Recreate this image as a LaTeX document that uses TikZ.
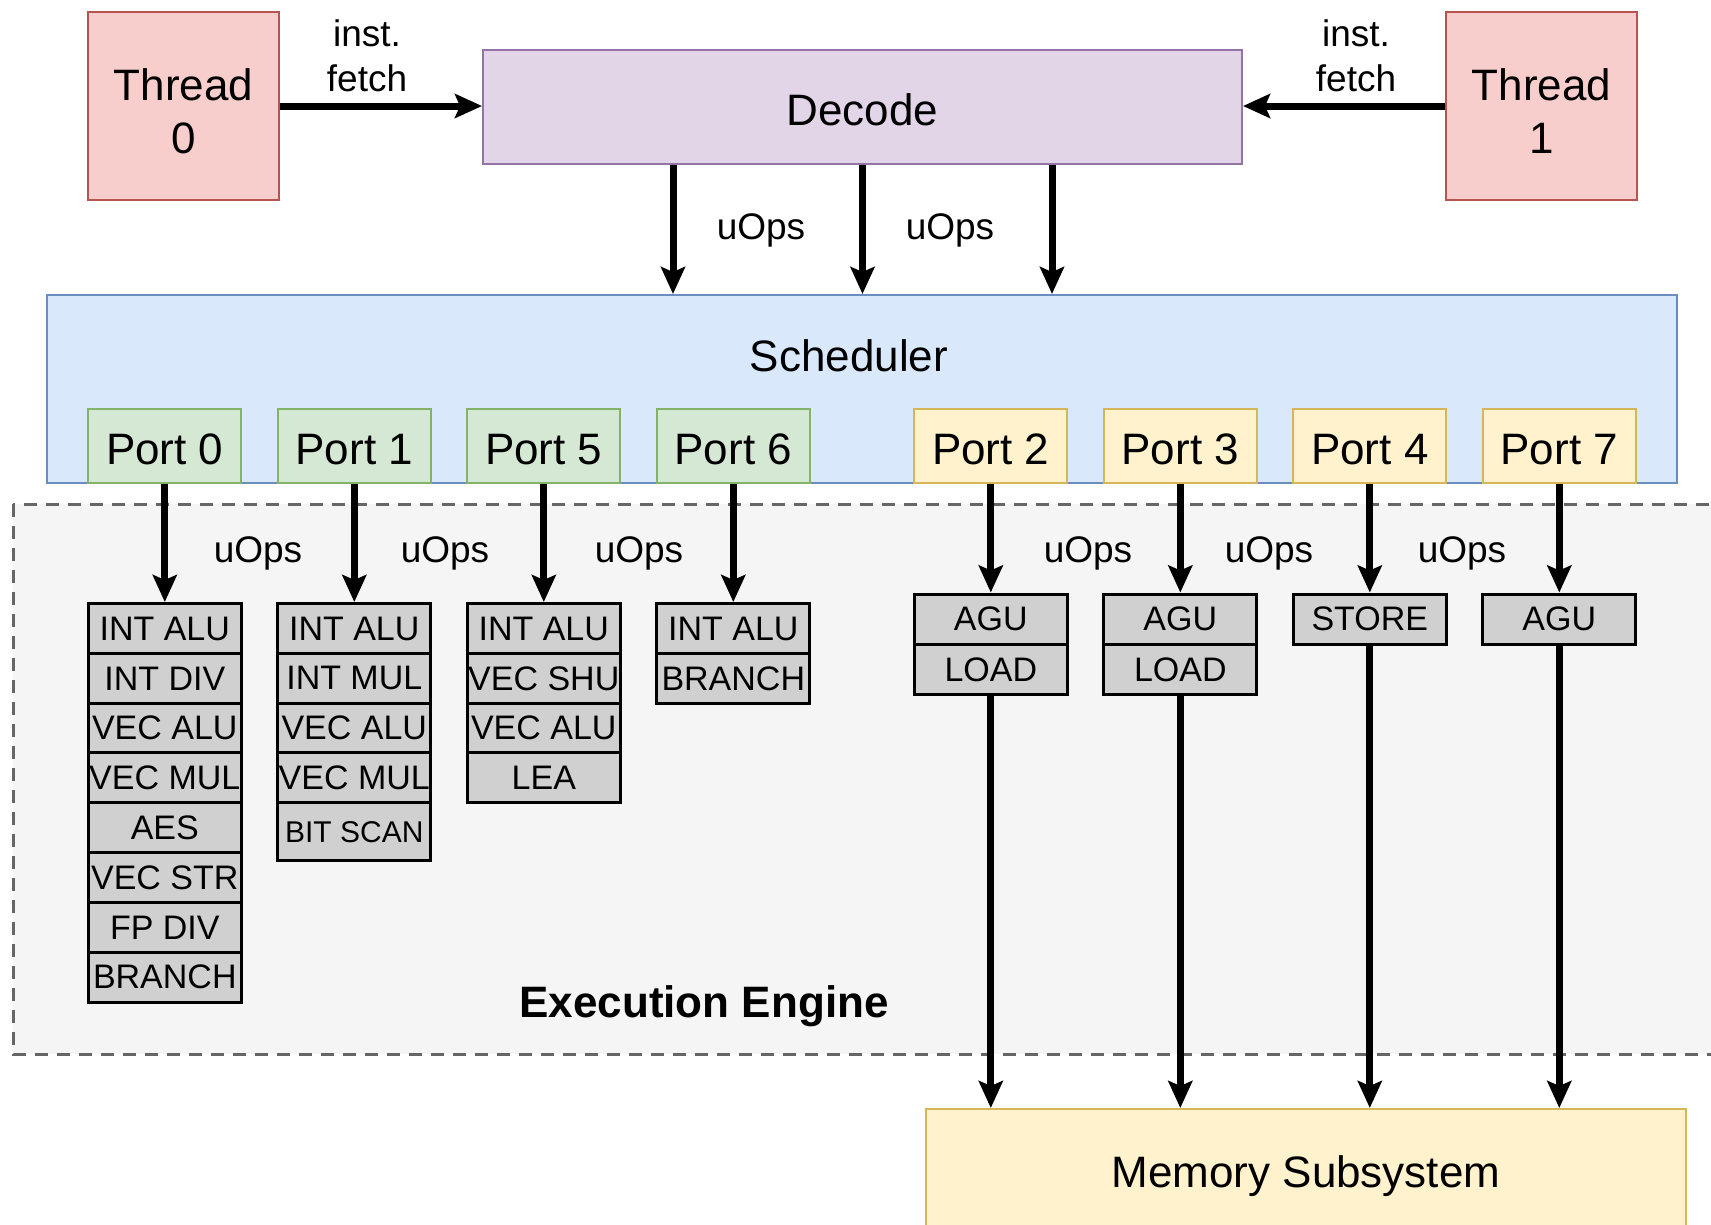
\documentclass[tikz,border=0pt]{standalone}
\usepackage{fontspec}
\setmainfont{Liberation Sans}
\usetikzlibrary{arrows.meta}

\definecolor{thrfill}{HTML}{F8CECC}
\definecolor{thrline}{HTML}{B85450}
\definecolor{decfill}{HTML}{E1D5E7}
\definecolor{decline}{HTML}{9673A6}
\definecolor{schfill}{HTML}{DAE8FC}
\definecolor{schline}{HTML}{6C8EBF}
\definecolor{grnfill}{HTML}{D5E8D4}
\definecolor{grnline}{HTML}{82B366}
\definecolor{ylwfill}{HTML}{FFF2CC}
\definecolor{ylwline}{HTML}{D6B656}
\definecolor{unitfill}{HTML}{D0D0D0}
\definecolor{engfill}{HTML}{F5F5F5}
\definecolor{engline}{HTML}{666666}

\begin{document}
\begin{tikzpicture}[x=1pt, y=-1pt,
    box/.style={draw, line width=2pt, inner sep=0pt, align=center, text height=37pt, text depth=0pt, font=\fontsize{44}{53}\selectfont},
    thread/.style={box, fill=thrfill, draw=thrline, minimum width=191pt, minimum height=188pt, text height=94pt},
    port/.style={box, minimum width=153pt, minimum height=74pt},
    unit/.style={draw=black, line width=3pt, fill=unitfill, inner sep=0pt, minimum width=153pt, minimum height=50pt, font=\fontsize{34}{40}\selectfont},
    lbl/.style={align=center, inner sep=0pt, font=\fontsize{37}{45}\selectfont},
    uop/.style={lbl, text height=26pt, text depth=0pt},
    flow/.style={-{Stealth[length=27pt, width=24pt, inset=5pt]}, line width=7pt}]
    \clip (0,0) rectangle (1711,1224);
    \fill[white] (0,0) rectangle (1711,1224);

    % front end
    \node[thread] (t0) at (183.5,106) {Thread\\0};
    \node[thread] (t1) at (1541.5,106) {Thread\\1};
    \node[box, fill=decfill, draw=decline, minimum width=759pt, minimum height=114pt] (dec) at (862.5,107) {Decode};
    \draw[flow] (t0.east) -- (t0.east -| dec.west);
    \draw[flow] (t1.west) -- (t1.west -| dec.east);
    \node[lbl] (f0) at (367,56) {inst.\\fetch};
    \node[lbl] (f1) at (1356,56) {inst.\\fetch};

    % scheduler and its ports
    \node[box, fill=schfill, draw=schline, minimum width=1630pt, minimum height=188pt] (sched) at (862,389) {};
    \node[box, draw=none] (schedtxt) at (849,353) {Scheduler};
    \foreach \X in {-189.5,0,189.5}
        \draw[flow] ([xshift=\X pt]dec.south) -- ([xshift=\X pt]dec.south |- sched.north);
    \node[uop] (ud0) at (761,226) {uOps};
    \node[uop] (ud1) at (950,226) {uOps};

    \foreach \N/\X in {0/164.8, 1/354.3, 5/543.8, 6/733.3}
        \node[port, fill=grnfill, draw=grnline] (p\N) at (\X,446) {Port \N};
    \foreach \N/\X in {2/990.8, 3/1180.3, 4/1369.8, 7/1559.3}
        \node[port, fill=ylwfill, draw=ylwline] (p\N) at (\X,446) {Port \N};

    % execution engine
    \draw[draw=engline, fill=engfill, line width=3pt, dash pattern=on 13pt off 9pt] (13,504) rectangle (1730,1054);
    \node[font=\bfseries\fontsize{44}{53}\selectfont, inner sep=0pt] (eng) at (704,1006.5) {Execution Engine};

    \foreach \N/\X/\List in {0/164.8/{INT ALU,INT DIV,VEC ALU,VEC MUL,AES,VEC STR,FP DIV,BRANCH},
                             1/354.3/{INT ALU,INT MUL,VEC ALU,VEC MUL},
                             5/543.8/{INT ALU,VEC SHU,VEC ALU,LEA},
                             6/733.3/{INT ALU,BRANCH}}{
        \foreach \Name [count=\R, evaluate=\R as \Y using 602+(\R-1)*49.8] in \List
            \node[unit, anchor=north] (u\N-\R) at (\X,\Y) {\Name};
        \draw[flow] (p\N.south) -- (u\N-1.north);
    }
    \node[unit, anchor=north, minimum height=58pt, font=\fontsize{30}{36}\selectfont] (u1-5) at ([yshift=3pt]u1-4.south) {BIT SCAN};

    \foreach \N/\X/\List in {2/990.8/{AGU,LOAD}, 3/1180.3/{AGU,LOAD}, 4/1369.8/{STORE}, 7/1559.3/{AGU}}{
        \foreach \Name [count=\R, evaluate=\R as \Y using 592.5+(\R-1)*50.3] in \List
            \node[unit, anchor=north] (u\N-\R) at (\X,\Y) {\Name};
        \draw[flow] (p\N.south) -- (u\N-1.north);
    }
    \foreach \X [count=\i] in {258,445,639,1088,1269,1462}
        \node[uop] (up\i) at (\X,549) {uOps};

    % memory side
    \node[box, fill=ylwfill, draw=ylwline, minimum width=760pt, minimum height=120pt] (mem) at (1306,1169) {Memory Subsystem};
    \foreach \U in {u2-2, u3-2, u4-1, u7-1}
        \draw[flow] (\U.south) -- (\U.south |- mem.north);
\end{tikzpicture}
\end{document}
